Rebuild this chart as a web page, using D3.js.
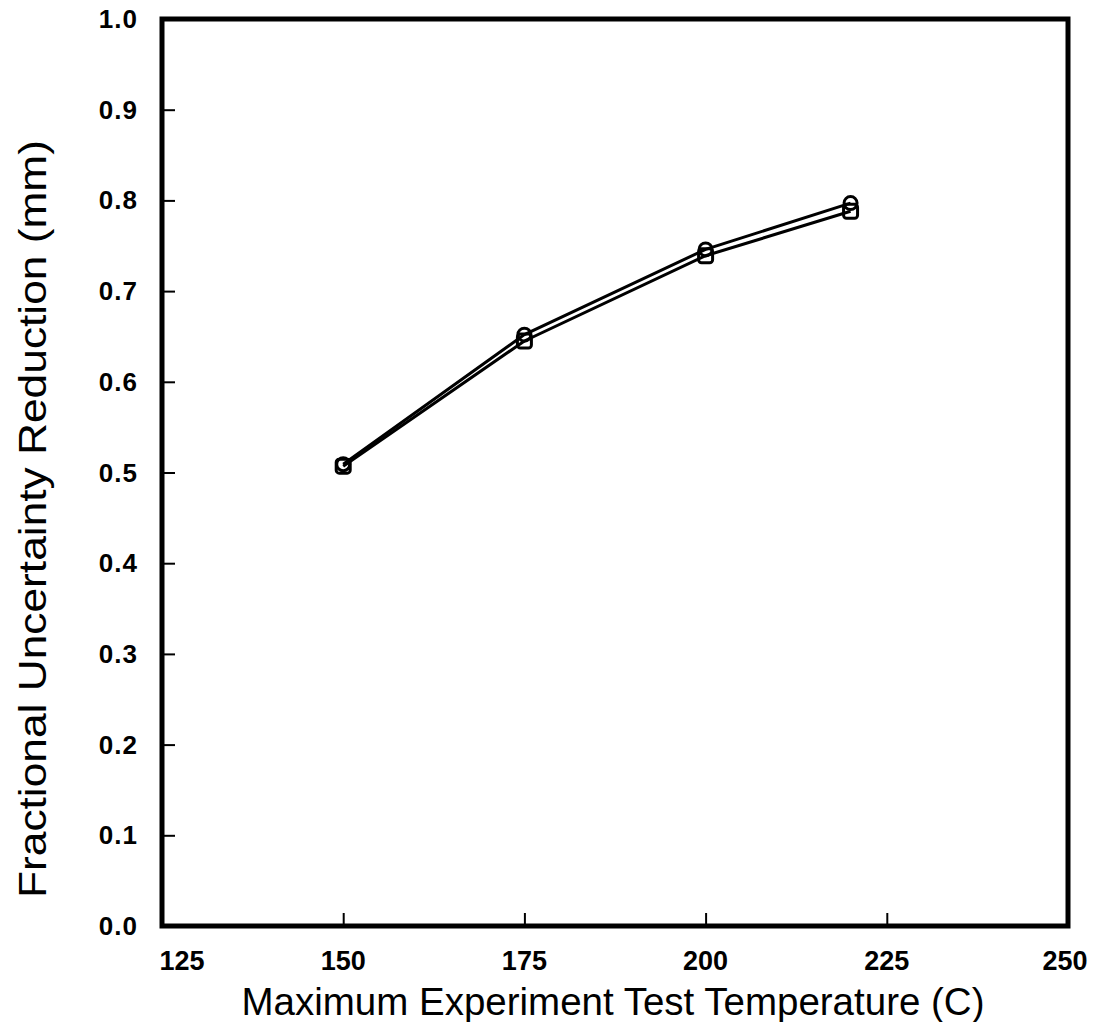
<!DOCTYPE html>
<html>
<head>
<meta charset="utf-8">
<script src="https://cdn.jsdelivr.net/npm/d3@7"></script>
<style>
  html, body { margin: 0; padding: 0; background: #fff; }
  svg { display: block; }
  text { font-family: "Liberation Sans", "DejaVu Sans", sans-serif; fill: #000; }
</style>
</head>
<body>
<svg id="chart" width="1108" height="1022"></svg>
<script>
// Maximum experiment test temperature (C)
const temperatures = [150, 175, 200, 220];
// Fractional uncertainty reduction, two cases (circle and square symbols)
const circleSeries = [0.509, 0.652, 0.746, 0.797];
const squareSeries = [0.507, 0.645, 0.739, 0.788];

const xTicks = [125, 150, 175, 200, 225, 250];
const yTicks = [0.0, 0.1, 0.2, 0.3, 0.4, 0.5, 0.6, 0.7, 0.8, 0.9, 1.0];

const xTitle = "Maximum Experiment Test Temperature (C)";
const yTitle = "Fractional Uncertainty Reduction (mm)";

const svg = d3.select("#chart");
const plot = { left: 162, right: 1068, top: 19, bottom: 926 };

const x = d3.scaleLinear().domain([125, 250]).range([plot.left, plot.right]);
const y = d3.scaleLinear().domain([0, 1]).range([plot.bottom, plot.top]);

// Inward ticks on the bottom and left edges
const xAxis = svg.append("g")
  .attr("transform", `translate(0,${plot.bottom})`)
  .call(d3.axisBottom(x).tickValues(xTicks.slice(1, -1)).tickSize(-13).tickFormat(""));
const yAxis = svg.append("g")
  .attr("transform", `translate(${plot.left},0)`)
  .call(d3.axisLeft(y).tickValues(yTicks.slice(1, -1)).tickSize(-13).tickFormat(""));
[xAxis, yAxis].forEach(a => {
  a.select(".domain").remove();
  a.selectAll(".tick line").attr("stroke", "#000").attr("stroke-width", 2);
});

// Tick labels
svg.append("g").selectAll("text").data(xTicks).join("text")
  .attr("x", d => x(d) + (d === 125 ? 20 : (d === 250 ? -3 : 0)))
  .attr("y", 970)
  .attr("text-anchor", "middle")
  .attr("font-size", 27)
  .attr("font-weight", "bold")
  .text(d => d);

svg.append("g").selectAll("text").data(yTicks).join("text")
  .attr("x", 138)
  .attr("y", d => y(d) + 9)
  .attr("text-anchor", "end")
  .attr("font-size", 26)
  .attr("font-weight", "bold")
  .attr("letter-spacing", 1)
  .text(d => d.toFixed(1));

// Frame
svg.append("rect")
  .attr("x", plot.left).attr("y", plot.top)
  .attr("width", plot.right - plot.left).attr("height", plot.bottom - plot.top)
  .attr("fill", "none").attr("stroke", "#000").attr("stroke-width", 5);

// Series lines and hollow markers
const line = d3.line().x(d => x(d[0])).y(d => y(d[1]));
const seriesList = [
  { values: circleSeries, symbol: "circle" },
  { values: squareSeries, symbol: "square" }
];
seriesList.forEach(s => {
  const pts = temperatures.map((t, i) => [t, s.values[i]]);
  svg.append("path").datum(pts)
    .attr("d", line)
    .attr("fill", "none").attr("stroke", "#000").attr("stroke-width", 3);
  const g = svg.append("g");
  if (s.symbol === "circle") {
    g.selectAll("circle").data(pts).join("circle")
      .attr("cx", d => x(d[0])).attr("cy", d => y(d[1])).attr("r", 6.5)
      .attr("fill", "none").attr("stroke", "#000").attr("stroke-width", 3);
  } else {
    g.selectAll("rect").data(pts).join("rect")
      .attr("x", d => x(d[0]) - 7).attr("y", d => y(d[1]) - 7)
      .attr("width", 14).attr("height", 14).attr("rx", 3)
      .attr("fill", "none").attr("stroke", "#000").attr("stroke-width", 3);
  }
});

// Axis titles
svg.append("text")
  .attr("x", 613).attr("y", 1015)
  .attr("text-anchor", "middle")
  .attr("font-size", 38)
  .attr("textLength", 743).attr("lengthAdjust", "spacingAndGlyphs")
  .text(xTitle);

svg.append("text")
  .attr("transform", "translate(46,519) rotate(-90)")
  .attr("text-anchor", "middle")
  .attr("font-size", 38)
  .attr("textLength", 758).attr("lengthAdjust", "spacingAndGlyphs")
  .text(yTitle);
</script>
</body>
</html>
